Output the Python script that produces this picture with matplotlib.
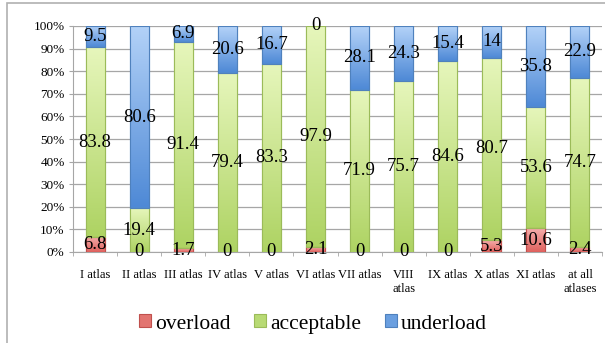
import matplotlib.pyplot as plt
import numpy as np
from matplotlib.patches import Rectangle
from matplotlib.colors import LinearSegmentedColormap

plt.rcParams['font.family'] = ['Liberation Serif', 'DejaVu Serif']

categories = ["I atlas", "II atlas", "III atlas", "IV atlas", "V atlas", "VI atlas",
              "VII atlas", "VIII\natlas", "IX atlas", "X atlas", "XI atlas", "at all\natlases"]
overload = [6.8, 0, 1.7, 0, 0, 2.1, 0, 0, 0, 5.3, 10.6, 2.4]
acceptable = [83.8, 19.4, 91.4, 79.4, 83.3, 97.9, 71.9, 75.7, 84.6, 80.7, 53.6, 74.7]
underload = [9.5, 80.6, 6.9, 20.6, 16.7, 0, 28.1, 24.3, 15.4, 14, 35.8, 22.9]

# name, values, gradient top, gradient bottom, legend swatch, edge
series = [
    ("overload", overload, "#f4aeac", "#e0625e", "#e27470", "#c0504d"),
    ("acceptable", acceptable, "#e6f6bb", "#aed363", "#b8da74", "#9bbb59"),
    ("underload", underload, "#b3d2f8", "#4e89d6", "#6a9fe0", "#4f81bd"),
]

fig = plt.figure(figsize=(6.05, 3.43), dpi=100)
ax = fig.add_axes([73 / 605, 1 - 252 / 343, 529 / 605, 226 / 343])

x = np.arange(len(categories))
totals = np.sum([s[1] for s in series], axis=0)
bottom = np.zeros(len(categories))
grad = np.linspace(1, 0, 64).reshape(-1, 1)
for name, vals, top_c, bot_c, swatch, ec in series:
    vals = np.array(vals, dtype=float)
    pct = vals / totals * 100
    cmap = LinearSegmentedColormap.from_list(name, [bot_c, top_c])
    bars = ax.bar(x, pct, 0.43, bottom=bottom, color=swatch, edgecolor=ec,
                  linewidth=0.8, label=name, zorder=3)
    # vertical gradient fill per segment, clipped to the bar
    for patch in bars:
        if patch.get_height() <= 0:
            continue
        x0, y0 = patch.get_x(), patch.get_y()
        im = ax.imshow(grad, cmap=cmap, vmin=0, vmax=1, aspect="auto",
                       extent=[x0, x0 + patch.get_width(), y0, y0 + patch.get_height()],
                       interpolation="bilinear", zorder=3.1)
        im.set_clip_path(patch)
        edge = Rectangle((x0, y0), patch.get_width(), patch.get_height(), fill=False,
                         edgecolor=ec, linewidth=0.8, zorder=3.2)
        ax.add_patch(edge)
    for xi, b, p, v in zip(x, bottom, pct, vals):
        ax.text(xi, b + p / 2, f"{v:g}", ha="center", va="center",
                fontsize=13.5, zorder=4)
    bottom += pct

ax.set_xlim(-0.5, len(categories) - 0.5)
ax.set_ylim(0, 100)
ax.set_yticks(np.arange(0, 101, 10))
ax.set_yticklabels([f"{t}%" for t in range(0, 101, 10)], fontsize=9.5)
ax.yaxis.grid(True, color="#a6a6a6", linewidth=0.9, zorder=0)
ax.set_axisbelow(True)

ax.set_xticks(x)
ax.set_xticklabels(categories, fontsize=9, linespacing=1.25)
ax.set_xticks(np.arange(-0.5, len(categories), 1), minor=True)
ax.tick_params(axis="x", which="major", length=0, pad=12)
ax.tick_params(axis="x", which="minor", length=3, color="#a6a6a6")
ax.tick_params(axis="y", length=3, color="#a6a6a6", pad=3)

for side in ["top", "right"]:
    ax.spines[side].set_visible(False)
for side in ["left", "bottom"]:
    ax.spines[side].set_color("#a6a6a6")

fig.legend(loc="center", bbox_to_anchor=(313 / 605, 1 - 324 / 343), ncol=3,
           frameon=False, fontsize=15.5, handlelength=0.55, handleheight=0.55,
           handletextpad=0.2, columnspacing=1.1)

# chart frame, running off the right and bottom edges
fig.patches.append(Rectangle((7 / 605, -0.05), 1.0, 1.05 - 3 / 343,
                             transform=fig.transFigure, fill=False,
                             edgecolor="#b0b0b0", linewidth=1.2))

fig.savefig("out.png", dpi=100)
